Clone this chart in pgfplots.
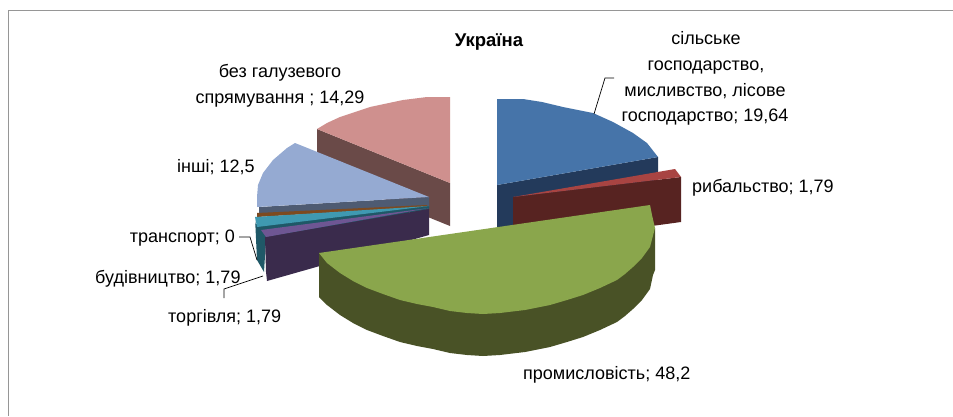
\documentclass[border=0pt]{standalone}
\usepackage{fontspec}
\setmainfont{Liberation Sans}
\usepackage{pgfplots}
\pgfplotsset{compat=1.18}
\definecolor{blueT}{HTML}{4674A9}
\definecolor{blueS}{HTML}{233A5B}
\definecolor{redT}{HTML}{A84442}
\definecolor{redS}{HTML}{572321}
\definecolor{greenT}{HTML}{8AA64C}
\definecolor{greenS}{HTML}{495226}
\definecolor{purpT}{HTML}{6E5693}
\definecolor{purpS}{HTML}{3A2B4C}
\definecolor{tealT}{HTML}{3F99B1}
\definecolor{tealS}{HTML}{1F5867}
\definecolor{brownT}{HTML}{7D4A20}
\definecolor{greyT}{HTML}{95AAD2}
\definecolor{greyS}{HTML}{4E5B72}
\definecolor{pinkT}{HTML}{CF908E}
\definecolor{pinkS}{HTML}{6A4A48}
\definecolor{frame}{HTML}{969696}
\tikzset{lab/.style={font=\fontsize{18}{20}\selectfont, text=black, inner sep=0pt, anchor=base}}
\begin{document}
\begin{tikzpicture}
\begin{axis}[hide axis, scale only axis, width=953pt, height=416pt,
  xmin=0, xmax=953, ymin=0, ymax=416, y dir=reverse, clip=true]
% background
\addplot[fill=white, draw=none] coordinates {(0,0)(953,0)(953,416)(0,416)};
\addplot[frame, line width=1.9pt] coordinates {(953,10.5)(8.5,10.5)(8.5,416)};
% pink slice
\addplot[fill=pinkS, draw=none] coordinates {(317,129)(450,183)(450,226)(317,172)};
\addplot[fill=pinkT, draw=none] coordinates {(450,183)(317,129)(327,123)(340,117)(370,107)(403,100)(427,97)(450,97)};
% other
\addplot[fill=greyS, draw=none] coordinates {(259,207)(429,197)(429,207)(259,214)};
\addplot[fill=greyT, draw=none] coordinates {(429,197)(295,143)(287,148)(273,160)(263,173)(258,185)(257,197)(257,207)};
% transport
\addplot[fill=brownT, draw=none] coordinates {(257,213)(427,205)(427,207)(257,217)};
% construction
\addplot[fill=tealS, draw=none] coordinates {(255,217)(257,260)(264,272)(266,240)(429,209)(429,206)(255,224)};
\addplot[fill=tealT, draw=none] coordinates {(255,217)(429,206)(257,227)};
% trade
\addplot[fill=purpS, draw=none] coordinates {(265,237)(429,209)(429,235)(267,281)(266,272)};
\addplot[fill=purpT, draw=none] coordinates {(261,230)(429,208)(266,237)};
% agriculture
\addplot[fill=blueS, draw=none] coordinates {(497,185)(658,157)(658,210)(497,260)};
\addplot[fill=blueT, draw=none] coordinates {(497,185)(497,99)(523,99)(542,102)(563,107)(593,113)(613,122)(633,133)(647,143)(658,157)};
% fishing
\addplot[fill=redS, draw=none] coordinates {(513,197)(681,177)(681,222)(513,245)};
\addplot[fill=redT, draw=none] coordinates {(513,197)(675,169)(681,177)};
% industry
\addplot[fill=greenS, draw=none] coordinates {(319,253)(655,228)(655,270)(653,275)(650,289)(642,300)(633,309)(625,316)(617,322)(600,330)(583,337)(567,342)(550,347)(525,352)(500,355)(483,356)(467,355)(450,353)(433,349)(417,346)(400,342)(383,336)(367,330)(353,323)(340,315)(327,305)(319,297)};
\addplot[fill=greenT, draw=none] coordinates {(319,253)(650,205)(652,215)(655,228)(650,247)(642,258)(633,267)(625,274)(617,280)(600,288)(583,295)(567,300)(550,305)(525,310)(500,313)(483,314)(467,313)(450,311)(433,307)(417,304)(400,300)(383,294)(367,288)(353,281)(340,273)(327,263)};
% leaders
\addplot[black, line width=0.7pt] coordinates {(614,78)(605,78)(594,114)};
\addplot[black, line width=0.7pt] coordinates {(239,237)(250,237)(257,260)};
\addplot[black, line width=0.7pt] coordinates {(224,298)(224,289)(263,276)};
% labels
\node[lab,font=\fontsize{18.5}{20}\selectfont\bfseries] at (axis cs:489,46) {Україна};
\node[lab] at (axis cs:706,44) {сільське};
\node[lab] at (axis cs:706,70) {господарство,};
\node[lab] at (axis cs:705,96) {мисливство, лісове};
\node[lab] at (axis cs:705,121) {господарство; 19,64};
\node[lab,anchor=base west] at (axis cs:692,192) {рибальство; 1,79};
\node[lab,anchor=base west] at (axis cs:523,379) {промисловість; 48,2};
\node[lab,anchor=base west] at (axis cs:168,322) {торгівля; 1,79};
\node[lab,anchor=base west] at (axis cs:95,283) {будівництво; 1,79};
\node[lab,anchor=base east] at (axis cs:235,242) {транспорт; 0};
\node[lab,anchor=base west] at (axis cs:177,172) {інші; 12,5};
\node[lab] at (axis cs:280,77) {без галузевого};
\node[lab] at (axis cs:280,103) {спрямування ; 14,29};
\end{axis}
\end{tikzpicture}
\end{document}
